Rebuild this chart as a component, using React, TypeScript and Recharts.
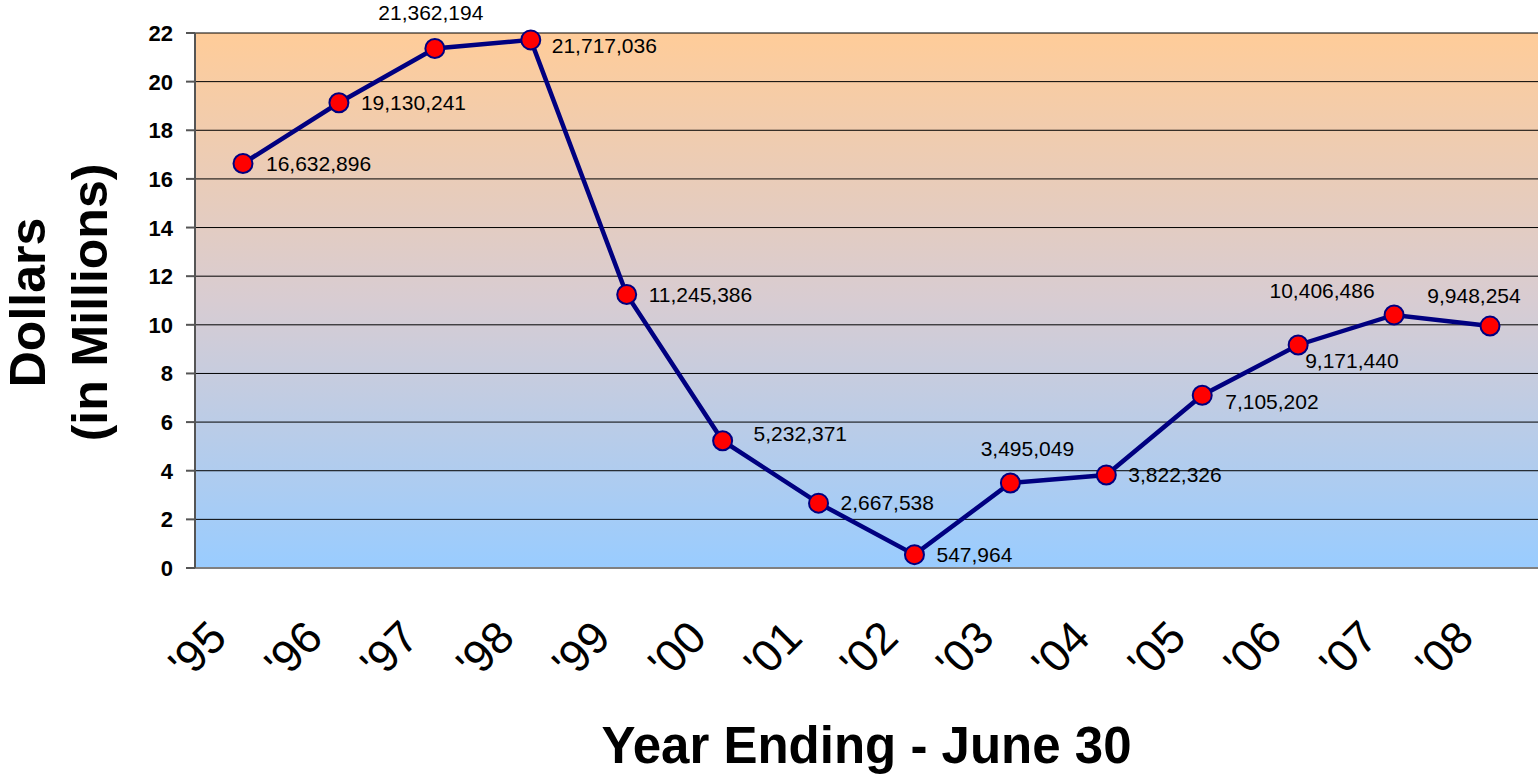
import { CartesianGrid, LabelList, Line, LineChart, XAxis, YAxis } from "recharts";

const years = ["'95", "'96", "'97", "'98", "'99", "'00", "'01", "'02", "'03", "'04", "'05", "'06", "'07", "'08"];
const dollars = [
  16632896, 19130241, 21362194, 21717036, 11245386, 5232371, 2667538, 547964, 3495049, 3822326, 7105202,
  9171440, 10406486, 9948254,
];
const yTicks = [0, 2, 4, 6, 8, 10, 12, 14, 16, 18, 20, 22];

// where each value label sits relative to its point: [dx, dy, anchor]
const labelPlacement: [number, number, "start" | "middle"][] = [
  [23, 7, "start"],
  [22, 7, "start"],
  [-4, -29, "middle"],
  [21, 13, "start"],
  [22, 7, "start"],
  [31, 0, "start"],
  [22, 7, "start"],
  [22, 7, "start"],
  [17, -27, "middle"],
  [22, 7, "start"],
  [23, 14, "start"],
  [7, 23, "start"],
  [-72, -17, "middle"],
  [-16, -23, "middle"],
];

const data = years.map((year, i) => ({ year, value: dollars[i] / 1e6 }));

const FONT = '"Liberation Sans", Arial, sans-serif';

function ValueLabel(props: any) {
  const { x, y, index } = props;
  const [dx, dy, anchor] = labelPlacement[index];
  return (
    <text x={x + dx} y={y + dy} textAnchor={anchor} fontSize={21} fontFamily={FONT} fill="#000">
      {dollars[index].toLocaleString("en-US")}
    </text>
  );
}

function YearTick(props: any) {
  const { x, y, payload } = props;
  const ax = x - 14;
  const ay = y + 72;
  return (
    <text
      x={ax}
      y={ay}
      textAnchor="end"
      fontSize={45}
      fontFamily={FONT}
      fill="#000"
      transform={`rotate(-45, ${ax}, ${ay})`}
    >
      {payload.value}
    </text>
  );
}

function ValueTick(props: any) {
  const { x, y, payload } = props;
  return (
    <text x={x} y={y} dy={8} textAnchor="end" fontSize={22} fontWeight="bold" fontFamily={FONT} fill="#000">
      {payload.value}
    </text>
  );
}

function YTitle(props: any) {
  const vb = props.viewBox || { x: 0, y: 33, height: 535 };
  const cy = vb.y + vb.height / 2 + 2;
  return (
    <g fontFamily={FONT} fontWeight="bold" fontSize={50} fill="#000">
      <text x={45} y={cy} textAnchor="middle" transform={`rotate(-90, 45, ${cy})`}>
        Dollars
      </text>
      <text x={107} y={cy} textAnchor="middle" transform={`rotate(-90, 107, ${cy})`}>
        (in Millions)
      </text>
    </g>
  );
}

export default function App() {
  return (
    <div style={{ position: "absolute", left: 0, top: 0, background: "#fff" }}>
      <LineChart width={1540} height={775} data={data} margin={{ top: 33, right: 2, bottom: 0, left: 0 }}>
        <defs>
          <linearGradient id="plotBg" x1="0" y1="0" x2="0" y2="1">
            <stop offset="0%" stopColor="#FFCC99" />
            <stop offset="50%" stopColor="#D8CCD2" />
            <stop offset="100%" stopColor="#99CCFF" />
          </linearGradient>
        </defs>
        <CartesianGrid vertical={false} stroke="#000" strokeWidth={1} fill="url(#plotBg)" fillOpacity={1} />
        <XAxis
          dataKey="year"
          height={207}
          padding={{ left: 48, right: 48 }}
          tickLine={false}
          tickSize={0}
          tickMargin={0}
          axisLine={{ stroke: "#808080", strokeWidth: 2 }}
          tick={<YearTick />}
          interval={0}
          label={{
            value: "Year Ending - June 30",
            position: "insideBottom",
            offset: 12,
            fontSize: 51,
            fontWeight: "bold",
            fontFamily: FONT,
            fill: "#000",
          }}
        />
        <XAxis
          xAxisId="top"
          dataKey="year"
          orientation="top"
          height={0}
          tick={false}
          tickLine={false}
          padding={{ left: 48, right: 48 }}
          axisLine={{ stroke: "#808080", strokeWidth: 2 }}
        />
        <YAxis
          width={195}
          domain={[0, 22]}
          ticks={yTicks}
          interval={0}
          tickSize={9}
          tickMargin={13}
          axisLine={{ stroke: "#555", strokeWidth: 2 }}
          tickLine={{ stroke: "#555", strokeWidth: 2 }}
          tick={<ValueTick />}
          label={<YTitle />}
        />
        <YAxis
          yAxisId="right"
          orientation="right"
          width={0}
          domain={[0, 22]}
          tick={false}
          tickLine={false}
          axisLine={{ stroke: "#808080", strokeWidth: 2 }}
        />
        <Line
          dataKey="value"
          type="linear"
          stroke="#000080"
          strokeWidth={4.5}
          dot={{ r: 9.5, fill: "#FF0000", stroke: "#000080", strokeWidth: 2 }}
          activeDot={false}
          isAnimationActive={false}
        >
          <LabelList dataKey="value" content={<ValueLabel />} />
        </Line>
      </LineChart>
    </div>
  );
}
